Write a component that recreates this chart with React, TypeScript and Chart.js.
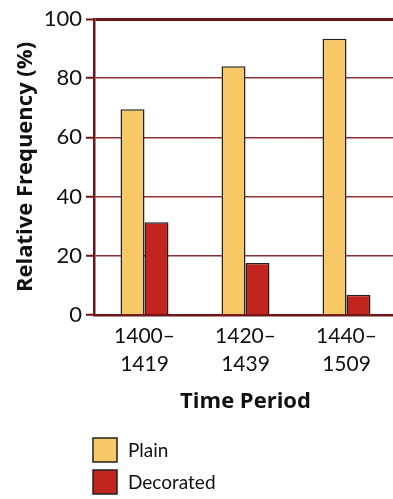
import React, { useEffect, useRef } from "react";
import { Chart, registerables } from "chart.js";

Chart.register(...registerables);

// Time periods (two-line category labels)
const periods: string[][] = [
  ["1400–", "1419"],
  ["1420–", "1439"],
  ["1440–", "1509"],
];

// Relative frequency (%) per period
const plain: number[] = [69.5, 84, 93.3];
const decorated: number[] = [31.3, 17.6, 6.8];

const seriesNames: string[] = ["Plain", "Decorated"];
const seriesColors: string[] = ["#F8C866", "#C1251E"];

const yMin = 0;
const yMax = 100;
const yStep = 20;

const FONT = "Lato, 'Open Sans', sans-serif";
const TITLE_FONT = "'Open Sans', Lato, sans-serif";
const AXIS_DARK = "#6e1616";
const GRID = "#8c3232";

// Legend stacked vertically beneath the axis title
const stackedLegend = {
  id: "stackedLegend",
  afterDraw(chart: any) {
    const { ctx, chartArea } = chart;
    ctx.save();
    chart.data.datasets.forEach((ds: any, i: number) => {
      const x = chartArea.left - 1;
      const y = chartArea.bottom + 123 + i * 32;
      ctx.fillStyle = ds.backgroundColor;
      ctx.fillRect(x, y, 24, 24);
      ctx.lineWidth = 1.5;
      ctx.strokeStyle = "#222";
      ctx.strokeRect(x, y, 24, 24);
      ctx.fillStyle = "#111";
      ctx.font = `19px ${FONT}`;
      ctx.textBaseline = "middle";
      ctx.textAlign = "left";
      ctx.fillText(ds.label, x + 35, y + 13);
    });
    ctx.restore();
  },
};

export default function App() {
  const canvasRef = useRef<HTMLCanvasElement | null>(null);

  useEffect(() => {
    if (!canvasRef.current) return;
    const chart = new Chart(canvasRef.current, {
      type: "bar",
      data: {
        labels: periods,
        datasets: [
          {
            label: seriesNames[0],
            data: plain,
            backgroundColor: seriesColors[0],
            borderColor: "#222",
            borderWidth: 1.5,
          },
          {
            label: seriesNames[1],
            data: decorated,
            backgroundColor: seriesColors[1],
            borderColor: "#222",
            borderWidth: 1.5,
          },
        ],
      },
      options: {
        responsive: false,
        animation: false,
        layout: { padding: { top: 19, right: 3, bottom: 84, left: 0 } },
        datasets: {
          bar: { categoryPercentage: 0.475, barPercentage: 1 },
        },
        plugins: {
          legend: { display: false },
          tooltip: { enabled: false },
        },
        scales: {
          x: {
            grid: { display: false, drawTicks: false },
            border: { display: true, color: AXIS_DARK, width: 2.5 },
            ticks: {
              color: "#111",
              padding: 8,
              font: { family: FONT, size: 21, lineHeight: 1.3 },
            },
            title: {
              display: true,
              text: "Time Period",
              color: "#111",
              font: { family: TITLE_FONT, size: 22, weight: "bold", lineHeight: 1.2 },
              padding: { top: 13, bottom: 0 },
            },
            afterFit(scale: any) {
              scale.height = 100;
            },
          },
          y: {
            min: yMin,
            max: yMax,
            ticks: {
              stepSize: yStep,
              color: "#111",
              padding: 4,
              font: { family: FONT, size: 22 },
            },
            grid: {
              color: (c: any) => (c.tick && c.tick.value === yMax ? AXIS_DARK : GRID),
              lineWidth: (c: any) => (c.tick && c.tick.value === yMax ? 3 : 1.5),
              tickColor: AXIS_DARK,
              tickLength: 8,
              tickWidth: 2,
            },
            border: { display: true, color: AXIS_DARK, width: 2.5 },
            title: {
              display: true,
              text: "Relative Frequency (%)",
              color: "#111",
              font: { family: TITLE_FONT, size: 22, weight: "bold", lineHeight: 1.2 },
              padding: { top: 13, bottom: 0 },
            },
            afterFit(scale: any) {
              scale.width = 94;
            },
          },
        },
      },
      plugins: [stackedLegend],
    });
    return () => chart.destroy();
  }, []);

  return (
    <div
      style={{
        position: "fixed",
        left: 0,
        top: 0,
        width: 393,
        height: 499,
        overflow: "hidden",
        background: "#fff",
      }}
    >
      <canvas
        ref={canvasRef}
        width={400}
        height={499}
        style={{ display: "block", width: 400, height: 499 }}
      />
    </div>
  );
}
